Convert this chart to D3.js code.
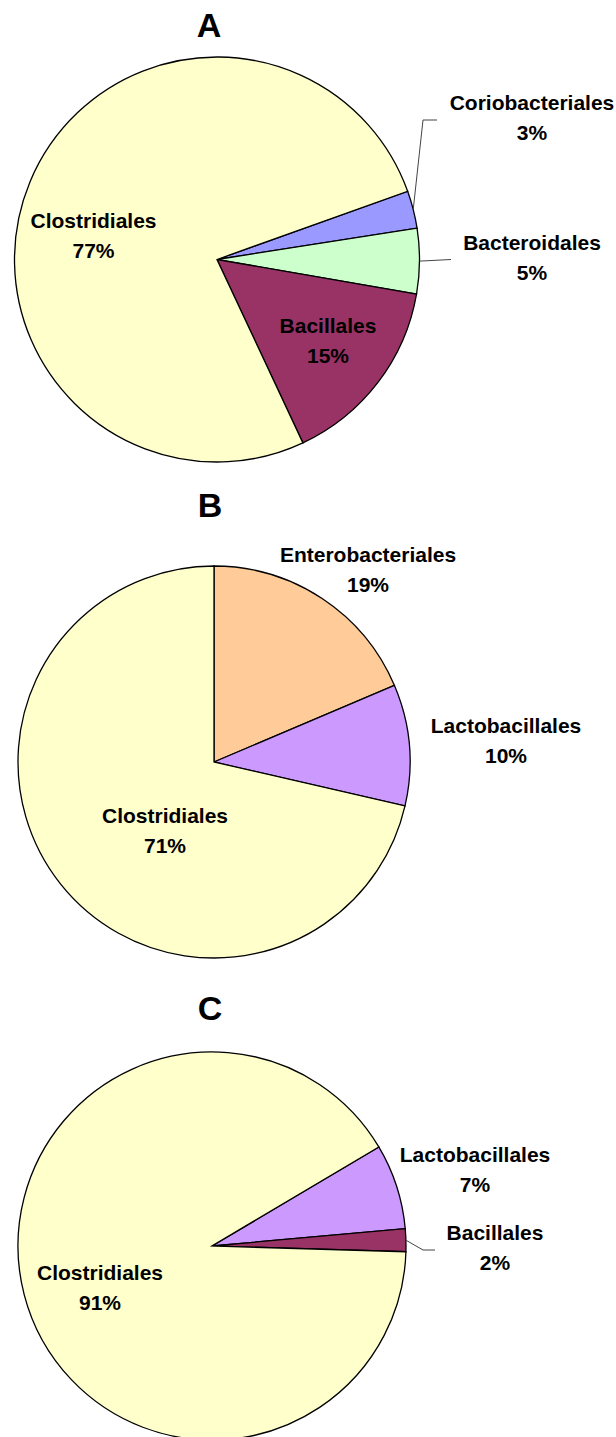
<!DOCTYPE html>
<html>
<head>
<meta charset="utf-8">
<script src="https://cdn.jsdelivr.net/npm/d3@7"></script>
<style>
  body { margin: 0; background: #fff; }
  svg { display: block; }
  text { font-family: "Liberation Sans", Arial, sans-serif; font-weight: bold; fill: #000; }
  .g-title { font-size: 34px; }
  .g-label { font-size: 21px; }
  .slice { stroke: #000; stroke-width: 1.3; }
  .leader { stroke: #444; stroke-width: 1; fill: none; }
</style>
</head>
<body>
<div id="chart"></div>
<script>
// Data, listed clockwise from the first slice edge
const A_NAMES = ['Coriobacteriales', 'Bacteroidales', 'Bacillales', 'Clostridiales'];
const A_VALUES = [3.0, 5.2, 15.3, 76.5];

const B_NAMES = ['Enterobacteriales', 'Lactobacillales', 'Clostridiales'];
const B_VALUES = [18.6, 10.0, 71.4];

const C_NAMES = ['Lactobacillales', 'Bacillales', 'Clostridiales'];
const C_VALUES = [7.1, 1.9, 91.0];

const COLORS = {
  Clostridiales: '#ffffcc',
  Coriobacteriales: '#9999ff',
  Bacteroidales: '#ccffcc',
  Bacillales: '#993366',
  Enterobacteriales: '#ffcc99',
  Lactobacillales: '#cc99ff'
};

// Layout for each panel (label x is the text centre, y the first baseline)
const PANELS = [
  {
    title: 'A', titleX: 209, titleY: 37,
    names: A_NAMES, values: A_VALUES,
    cx: 217, cy: 259.5, r: 202.5, startDeg: 70.3,
    labels: {
      Clostridiales: [93.5, 228],
      Coriobacteriales: [532, 110],
      Bacteroidales: [532, 250],
      Bacillales: [328, 333]
    },
    leaders: {
      Coriobacteriales: [[423, 120], [437, 120]],
      Bacteroidales: [[451, 259.5]]
    }
  },
  {
    title: 'B', titleX: 210, titleY: 517,
    names: B_NAMES, values: B_VALUES,
    cx: 214, cy: 762, r: 196, startDeg: 0,
    labels: {
      Enterobacteriales: [368, 562],
      Lactobacillales: [506, 733],
      Clostridiales: [165, 823]
    },
    leaders: {}
  },
  {
    title: 'C', titleX: 210, titleY: 1020,
    names: C_NAMES, values: C_VALUES,
    cx: 212, cy: 1246, r: 194, startDeg: 59.3,
    labels: {
      Lactobacillales: [475, 1162],
      Bacillales: [495, 1240],
      Clostridiales: [100, 1280]
    },
    leaders: {
      Bacillales: [[423, 1250], [435, 1250]]
    }
  }
];

const width = 616;
const height = 1437;
const rad = (deg) => deg * Math.PI / 180;

const svg = d3.select('#chart').append('svg')
  .attr('width', width)
  .attr('height', height);

PANELS.forEach((p) => {
  const data = p.names.map((name, i) => { return { name: name, value: p.values[i] }; });

  const pie = d3.pie()
    .sort(null)
    .value((d) => { return d.value; })
    .startAngle(rad(p.startDeg))
    .endAngle(rad(p.startDeg + 360));

  const arc = d3.arc().innerRadius(0).outerRadius(p.r);
  const rim = d3.arc().innerRadius(p.r).outerRadius(p.r);
  const arcs = pie(data);

  svg.append('text')
    .attr('class', 'g-title')
    .attr('x', p.titleX)
    .attr('y', p.titleY)
    .attr('text-anchor', 'middle')
    .text(p.title);

  const g = svg.append('g')
    .attr('transform', `translate(${ p.cx }, ${ p.cy })`);

  g.selectAll('.slice')
    .data(arcs)
      .enter()
    .append('path')
      .attr('class', 'slice')
      .attr('fill', (d) => { return COLORS[d.data.name]; })
      .attr('d', arc);

  // leader lines from the rim to the outside labels
  arcs.forEach((d) => {
    const pts = p.leaders[d.data.name];
    if (!pts) return;
    const start = rim.centroid(d);
    const path = d3.path();
    path.moveTo(p.cx + start[0], p.cy + start[1]);
    pts.forEach((pt) => { path.lineTo(pt[0], pt[1]); });
    svg.append('path')
      .attr('class', 'leader')
      .attr('d', path.toString());
  });

  arcs.forEach((d) => {
    const pos = p.labels[d.data.name];
    const label = svg.append('text')
      .attr('class', 'g-label')
      .attr('text-anchor', 'middle');
    label.append('tspan')
      .attr('x', pos[0])
      .attr('y', pos[1])
      .text(d.data.name);
    label.append('tspan')
      .attr('x', pos[0])
      .attr('y', pos[1] + 30)
      .text(`${ Math.round(d.data.value) }%`);
  });
});
</script>
</body>
</html>
